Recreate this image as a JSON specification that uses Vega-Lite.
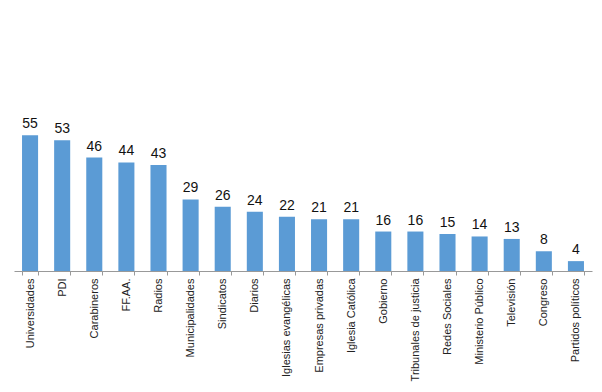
{
  "$schema": "https://vega.github.io/schema/vega-lite/v6.json",
  "width": 578,
  "height": 148,
  "autosize": {"type": "none"},
  "padding": {"left": 14, "top": 123, "right": 10, "bottom": 121},
  "background": "white",
  "config": {"view": {"stroke": null}, "font": "Liberation Sans"},
  "data": {"values": [
    {"cat": "Universidades", "v": 55},
    {"cat": "PDI", "v": 53},
    {"cat": "Carabineros", "v": 46},
    {"cat": "FF.AA.", "v": 44},
    {"cat": "Radios", "v": 43},
    {"cat": "Municipalidades", "v": 29},
    {"cat": "Sindicatos", "v": 26},
    {"cat": "Diarios", "v": 24},
    {"cat": "Iglesias evangélicas", "v": 22},
    {"cat": "Empresas privadas", "v": 21},
    {"cat": "Iglesia Católica", "v": 21},
    {"cat": "Gobierno", "v": 16},
    {"cat": "Tribunales de justicia", "v": 16},
    {"cat": "Redes Sociales", "v": 15},
    {"cat": "Ministerio Público", "v": 14},
    {"cat": "Televisión", "v": 13},
    {"cat": "Congreso", "v": 8},
    {"cat": "Partidos políticos", "v": 4}
  ]},
  "encoding": {
    "x": {"field": "cat", "type": "nominal", "sort": null,
      "scale": {"paddingInner": 0.5, "paddingOuter": 0.25},
      "axis": {"title": null, "labelAngle": -90, "labelFontSize": 11, "labelColor": "#222",
        "tickBand": "extent", "tickSize": 4, "tickColor": "#999", "domainColor": "#999",
        "labelPadding": 3, "labelFont": "Liberation Sans"}},
    "y": {"field": "v", "type": "quantitative", "scale": {"domain": [0, 60]}, "axis": null}
  },
  "layer": [
    {"mark": {"type": "bar", "color": "#5B9BD5"}},
    {"mark": {"type": "text", "baseline": "bottom", "dy": -4, "fontSize": 14, "color": "#111", "font": "Liberation Sans"},
      "encoding": {"text": {"field": "v", "type": "quantitative"}}}
  ]
}
